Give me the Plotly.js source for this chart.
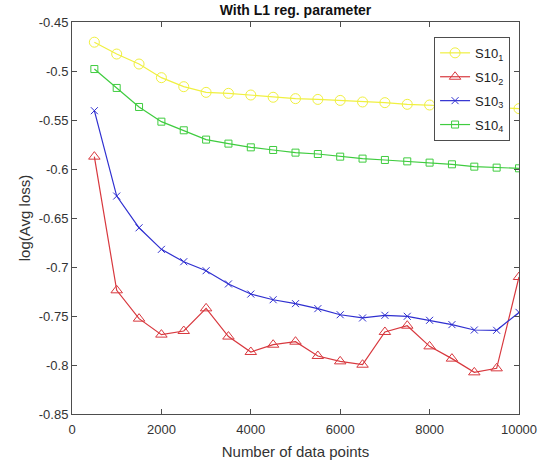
<!DOCTYPE html>
<html>
<head>
<meta charset="utf-8">
<script src="https://cdn.plot.ly/plotly-3.0.1.min.js"></script>
<style>html,body{margin:0;padding:0;background:#fff;}#chart{width:544px;height:465px;}</style>
</head>
<body>
<div id="chart"></div>
<script>
var xPoints = [500,1000,1500,2000,2500,3000,3500,4000,4500,5000,5500,6000,6500,7000,7500,8000,8500,9000,9500,10000];
var s10_1 = [-0.4706,-0.4827,-0.4929,-0.5068,-0.5160,-0.5218,-0.5228,-0.5245,-0.5268,-0.5282,-0.5290,-0.5300,-0.5316,-0.5323,-0.5340,-0.5347,-0.5355,-0.5365,-0.5375,-0.5384];
var s10_2 = [-0.5874,-0.7238,-0.7527,-0.7690,-0.7653,-0.7422,-0.7710,-0.7867,-0.7793,-0.7762,-0.7908,-0.7963,-0.7997,-0.7663,-0.7599,-0.7810,-0.7935,-0.8075,-0.8034,-0.7102];
var s10_3 = [-0.5405,-0.6276,-0.6600,-0.6820,-0.6946,-0.7038,-0.7173,-0.7276,-0.7334,-0.7374,-0.7425,-0.7487,-0.7520,-0.7493,-0.7503,-0.7544,-0.7588,-0.7643,-0.7646,-0.7463];
var s10_4 = [-0.4980,-0.5173,-0.5367,-0.5517,-0.5605,-0.5700,-0.5741,-0.5779,-0.5806,-0.5833,-0.5847,-0.5874,-0.5894,-0.5908,-0.5922,-0.5935,-0.5952,-0.5976,-0.5986,-0.5993];
var seriesNames = ['S10<sub>1</sub>','S10<sub>2</sub>','S10<sub>3</sub>','S10<sub>4</sub>'];
var xTickVals = [0,2000,4000,6000,8000,10000];
var xTickText = ['0','2000','4000','6000','8000','10000'];
var yTickVals = [-0.85,-0.8,-0.75,-0.7,-0.65,-0.6,-0.55,-0.5,-0.45];
var yTickText = ['-0.85','-0.8','-0.75','-0.7','-0.65','-0.6','-0.55','-0.5','-0.45'];

var FONT = 'Liberation Sans, Arial, sans-serif';
var colors = ['#f0f040','#d8383e','#2f2fd0','#3fcc3f'];
var symbols = ['circle-open','triangle-up-open','x-thin-open','square-open'];
var sizes = [10,10,7,7];
var data = [s10_1,s10_2,s10_3,s10_4].map(function(ys,i){
  return {
    x: xPoints, y: ys, type:'scatter', mode:'lines+markers', name: seriesNames[i],
    legendgroup:'g'+i,
    line:{color:colors[i], width:1.2},
    marker:{symbol:symbols[i], size:sizes[i], color:colors[i], line:{color:colors[i], width:1}}
  };
});

var axisCommon = {
  showline:true, linecolor:'#4d4d4d', linewidth:1, mirror:'ticks',
  ticks:'inside', ticklen:5, tickcolor:'#4d4d4d', showgrid:false, zeroline:false,
  tickfont:{family:FONT, size:13, color:'#333'}
};
var layout = {
  width:544, height:465,
  margin:{l:72, r:25, t:22, b:51},
  paper_bgcolor:'#fff', plot_bgcolor:'#fff',
  title:{text:'<b>With L1 reg. parameter</b>', x:0.5, xanchor:'center', xref:'paper', y:0.978, yanchor:'middle',
    font:{family:FONT, size:14, color:'#111'}},
  xaxis: Object.assign({}, axisCommon, {range:[0,10000], tickvals:xTickVals, ticktext:xTickText, ticklabelstandoff:3,
    title:{text:'Number of data points', standoff:10, font:{family:FONT, size:15, color:'#333'}}}),
  yaxis: Object.assign({}, axisCommon, {range:[-0.85,-0.45], tickvals:yTickVals, ticktext:yTickText,
    title:{text:'log(Avg loss)', standoff:4, font:{family:FONT, size:15, color:'#333'}}}),
  showlegend:true,
  legend:{x:0.81, y:0.962, xanchor:'left', yanchor:'top', bgcolor:'#fff', bordercolor:'#4d4d4d', borderwidth:1,
    font:{family:FONT, size:13, color:'#222'}, tracegroupgap:4, itemwidth:30}
};
Plotly.newPlot('chart', data, layout, {displayModeBar:false, staticPlot:true});
</script>
</body>
</html>
